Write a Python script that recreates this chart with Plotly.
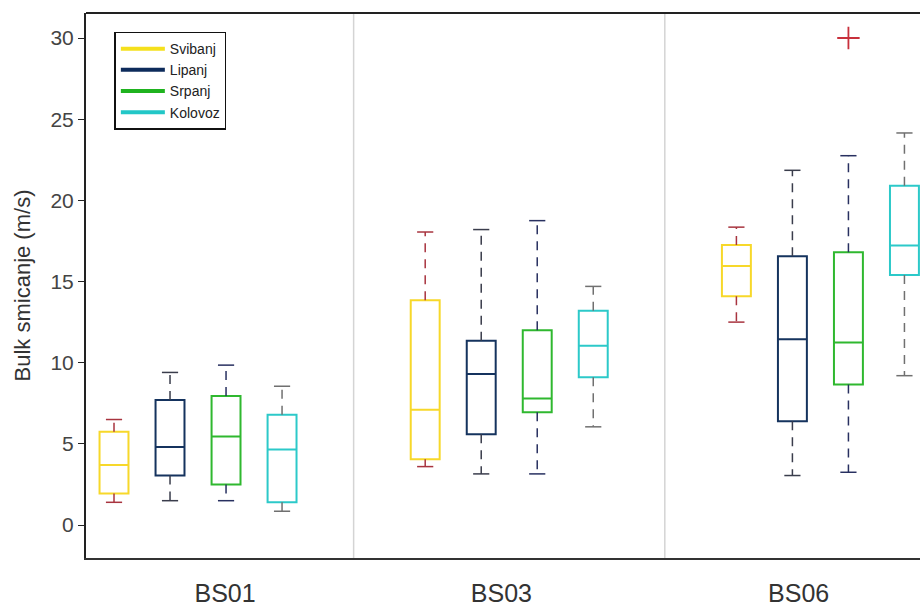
import plotly.graph_objects as go

# grupe i serije
postaje = ["BS01", "BS03", "BS06"]
mjeseci = ["Svibanj", "Lipanj", "Srpanj", "Kolovoz"]

# statistike boxplota po mjesecu (BS01, BS03, BS06)
donji = {
    "Svibanj": [1.4, 3.6, 12.5],
    "Lipanj": [1.5, 3.15, 3.05],
    "Srpanj": [1.5, 3.15, 3.25],
    "Kolovoz": [0.85, 6.05, 9.2],
}
q1 = {
    "Svibanj": [1.95, 4.05, 14.1],
    "Lipanj": [3.05, 5.6, 6.4],
    "Srpanj": [2.5, 6.95, 8.65],
    "Kolovoz": [1.4, 9.1, 15.4],
}
medijan = {
    "Svibanj": [3.7, 7.1, 15.95],
    "Lipanj": [4.8, 9.3, 11.45],
    "Srpanj": [5.45, 7.8, 11.25],
    "Kolovoz": [4.65, 11.05, 17.22],
}
q3 = {
    "Svibanj": [5.75, 13.85, 17.25],
    "Lipanj": [7.7, 11.35, 16.55],
    "Srpanj": [7.95, 12.0, 16.8],
    "Kolovoz": [6.8, 13.2, 20.9],
}
gornji = {
    "Svibanj": [6.5, 18.05, 18.35],
    "Lipanj": [9.4, 18.2, 21.85],
    "Srpanj": [9.85, 18.75, 22.75],
    "Kolovoz": [8.55, 14.7, 24.15],
}
# outlieri: (mjesec, postaja, vrijednost)
outlier_mjesec = ["Srpanj"]
outlier_postaja = ["BS06"]
outlier_vrijednost = [30.0]

boje = {"Svibanj": "#f7d82a", "Lipanj": "#15335e", "Srpanj": "#2fb82f", "Kolovoz": "#2cc9c9"}
boje_legenda = {"Svibanj": "#f5e01c", "Lipanj": "#0d2b5b", "Srpanj": "#1fb31f", "Kolovoz": "#22c7c7"}
boje_brk = {"Svibanj": "#a8343f", "Lipanj": "#3a3d4c", "Srpanj": "#283060", "Kolovoz": "#707070"}

pomak = {"Svibanj": -0.27, "Lipanj": -0.09, "Srpanj": 0.09, "Kolovoz": 0.27}
sirina = 0.093
kapa = 0.026

fig = go.Figure()

for m in mjeseci:
    pos = [i + pomak[m] for i in range(len(postaje))]
    fig.add_trace(go.Box(
        x=pos, q1=q1[m], median=medijan[m], q3=q3[m],
        lowerfence=q1[m], upperfence=q3[m],
        width=sirina, whiskerwidth=0,
        line=dict(color=boje[m], width=2),
        fillcolor="rgba(0,0,0,0)",
        boxpoints=False, showlegend=False, hoverinfo="skip",
    ))
    # brkovi (isprekidani)
    wx, wy, cx, cy = [], [], [], []
    for p, a, b, c, d in zip(pos, donji[m], q1[m], q3[m], gornji[m]):
        wx += [p, p, None, p, p, None]
        wy += [c, d, None, b, a, None]
        cx += [p - kapa, p + kapa, None, p - kapa, p + kapa, None]
        cy += [d, d, None, a, a, None]
    fig.add_trace(go.Scatter(x=wx, y=wy, mode="lines",
                             line=dict(color=boje_brk[m], width=1.5, dash="9px,7px"),
                             showlegend=False, hoverinfo="skip"))
    fig.add_trace(go.Scatter(x=cx, y=cy, mode="lines",
                             line=dict(color=boje_brk[m], width=1.5),
                             showlegend=False, hoverinfo="skip"))

ox = [postaje.index(s) + pomak[m] for m, s in zip(outlier_mjesec, outlier_postaja)]
fig.add_trace(go.Scatter(x=ox, y=outlier_vrijednost, mode="markers",
                         marker=dict(symbol="cross-thin-open", size=16, color="#c8303c",
                                     line=dict(color="#c8303c", width=1.8)),
                         showlegend=False, hoverinfo="skip"))

# legenda kao linije
for m in mjeseci:
    fig.add_trace(go.Scatter(x=[None], y=[None], mode="lines", name=m,
                             line=dict(color=boje_legenda[m], width=4)))

# razdjelnici grupa
for xs in [0.5, 1.5]:
    fig.add_shape(type="line", x0=xs, x1=xs, y0=0, y1=1, yref="paper",
                  line=dict(color="#d4d4d4", width=1.5), layer="below")
# gornji rub
fig.add_shape(type="line", x0=0, x1=1, xref="paper", y0=1, y1=1, yref="paper",
              line=dict(color="#222", width=2))

fig.update_layout(
    width=920, height=607,
    margin=dict(l=86, r=0, t=13, b=49),
    plot_bgcolor="white", paper_bgcolor="white",
    font=dict(family="Arial, Liberation Sans, sans-serif", color="#333"),
    legend=dict(x=0.034, y=0.966, xanchor="left", yanchor="top",
                bgcolor="white", bordercolor="#111", borderwidth=1.5,
                font=dict(size=14, color="#222"), tracegroupgap=0,
                itemwidth=44),
    xaxis=dict(range=[-0.36, 2.32], showgrid=False, zeroline=False,
               showline=True, linecolor="#333", linewidth=2,
               tickvals=[0.087, 0.975, 1.93], ticktext=postaje,
               ticks="", ticklabelstandoff=12,
               tickfont=dict(size=25, color="#333")),
    yaxis=dict(range=[-2.03, 31.54], showgrid=False, zeroline=False,
               showline=True, linecolor="#222", linewidth=2,
               tickvals=[0, 5, 10, 15, 20, 25, 30],
               ticks="outside", ticklen=6, tickcolor="#222",
               tickfont=dict(size=21, color="#444"),
               title=dict(text="Bulk smicanje (m/s)", font=dict(size=22, color="#333"),
                          standoff=14)),
)

# bez margine stranice, da graf krene od ruba prozora
fig.write_html("out.html", config={"displayModeBar": False},
               post_script="document.body.style.margin='0';document.body.style.overflow='hidden';")
